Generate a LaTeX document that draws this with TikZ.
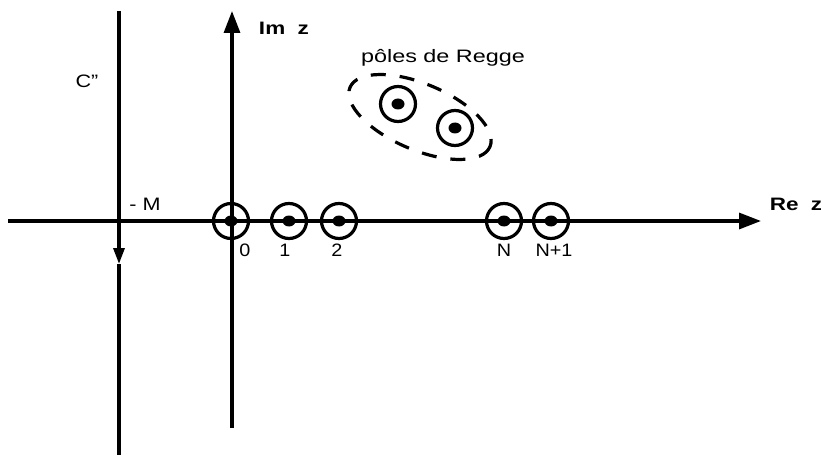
\documentclass[tikz,border=0pt]{standalone}
\usepackage{fontspec}
\setmainfont{Liberation Sans}
\usetikzlibrary{arrows.meta}
\newcommand\wideby[2]{\scalebox{#1}[1]{#2}}
\begin{document}
\begin{tikzpicture}[x=1pt,y=-1pt,
  axis/.style={line width=3.2pt},
  pole/.style={circle,draw,line width=3.2pt,minimum size=35pt,inner sep=0pt,
    path picture={\fill (path picture bounding box.center) ellipse [x radius=6.5pt, y radius=5.5pt];}},
  lbl/.style={font=\fontsize{18}{21}\selectfont,inner sep=0pt},
  blbl/.style={font=\fontsize{18}{21}\selectfont\bfseries,inner sep=0pt}]
\useasboundingbox (0,0) rectangle (821,457);
% coordinates
\coordinate (reL) at (8,221);
\coordinate (reR) at (761,221);
\coordinate (imB) at (232,428);
\coordinate (imT) at (232,11);
\coordinate (cT) at (119,11);
\coordinate (cM) at (119,264);
\coordinate (cB) at (119,455);
% axes
\draw[axis,-{Triangle[length=22pt,width=16pt]}] (reL) -- (reR);
\draw[axis,-{Triangle[length=22pt,width=16pt]}] (imB) -- (imT);
\draw[axis,-{Triangle[length=16pt,width=11pt]}] (cT) -- (cM);
\draw[axis] (cM) -- (cB);
% poles on real axis
\node[pole] (p0) at (231,221) {};
\node[pole] (p1) at (289,221) {};
\node[pole] (p2) at (339,221) {};
\node[pole] (pN) at (504,221) {};
\node[pole] (pN1) at (551,221) {};
% Regge poles
\node[pole] (r1) at (398,104) {};
\node[pole] (r2) at (455,128) {};
\draw[line width=3.2pt,dash pattern=on 15pt off 14pt] (420,117) ellipse [x radius=76, y radius=33, rotate=-23];
% labels
\node[lbl] (l0) at (245,250) {\wideby{1.1}{0}};
\node[lbl] (l1) at (285,250) {\wideby{1.1}{1}};
\node[lbl] (l2) at (337,250) {\wideby{1.1}{2}};
\node[lbl] (lN) at (504,250) {\wideby{1.1}{N}};
\node[lbl] (lN1) at (554,250) {\wideby{1.1}{N+1}};
\node[lbl] (lM) at (145,204) {\wideby{1.2}{- M}};
\node[lbl] (lC) at (87,81) {\wideby{1.2}{C”}};
\node[lbl] (lR) at (443,58) {\wideby{1.3}{pôles de Regge}};
\node[blbl] (lIm) at (284,28) {\wideby{1.25}{Im\ \ z}};
\node[blbl] (lRe) at (796,204) {\wideby{1.25}{Re\ \ z}};
\end{tikzpicture}
\end{document}
